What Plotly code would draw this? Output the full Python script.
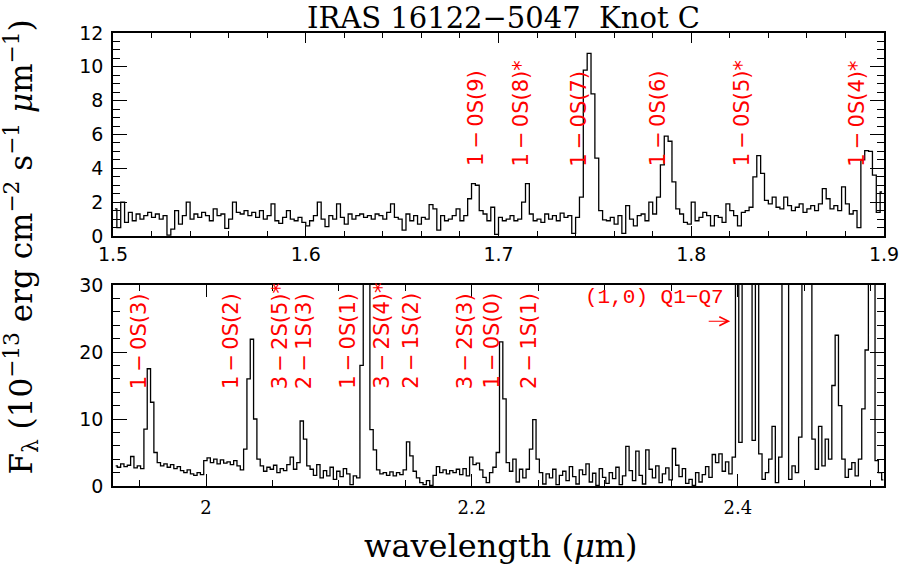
import numpy as np
import plotly.graph_objects as go

# ---------------- spectra ----------------
# H band: uniform grid starting at 1.501 um, 0.002 um per bin
h_start, h_step = 1.501, 0.002
h_flux = [
    1.6, 0.5, 2.0, 0.8, 1.4, 0.9, 1.3, 1.0, 1.2, 1.4,
    1.1, 1.3, 1.0, 1.2, 0.05, 0.4, 1.5, 0.7, 1.2, 2.0,
    1.0, 1.3, 1.1, 1.4, 1.2, 0.9, 1.6, 1.2, 1.3, 0.45,
    1.0, 2.0, 1.4, 1.3, 1.5, 1.2, 1.4, 1.1, 1.5, 1.0,
    1.2, 1.9, 0.9, 0.75, 1.1, 1.5, 1.0, 0.9, 1.1, 0.8,
    0.6, 0.9, 1.2, 2.0, 1.0, 0.55, 1.2, 1.0, 1.9, 1.1,
    0.7, 1.3, 1.0, 1.2, 1.3, 1.1, 1.2, 1.0, 1.3, 1.2,
    1.0, 1.4, 1.9, 1.1, 1.0, 0.35, 1.3, 0.9, 1.2, 0.7,
    1.1, 1.0, 1.85, 1.6, 0.35, 1.2, 0.9, 1.0, 1.2, 1.6,
    0.9, 1.2, 2.2, 3.1, 3.0, 1.5, 1.3, 0.9, 1.7, 0.1,
    1.1, 0.9, 1.0, 1.2, 0.9, 1.0, 2.0, 3.1, 1.3, 0.9,
    1.0, 0.8, 1.3, 1.0, 1.2, 0.9, 1.35, 1.1, 1.2, 0.15,
    1.1, 2.3, 9.8, 10.8, 8.4, 4.6, 1.5, 0.95, 0.9, 1.1,
    0.7, 1.2, 0.15, 1.8, 1.0, 0.6, 1.2, 1.3, 0.9, 2.0,
    1.3, 2.3, 4.2, 5.9, 5.6, 3.2, 1.6, 1.3, 0.8, 0.7,
    2.0, 0.9, 1.1, 1.4, 1.2, 0.6, 1.2, 1.1, 0.8, 1.9,
    1.5, 1.2, 0.6, 1.4, 1.5, 1.7, 3.5, 4.75, 3.7, 2.1,
    1.9, 2.3, 1.7, 1.6, 2.3, 1.8, 1.5, 1.7, 1.9, 1.4,
    1.6, 1.8, 1.5, 1.9, 2.8, 2.2, 1.6, 1.8, 1.5, 2.9,
    1.9, 1.3, 1.5, 0.5, 4.5, 5.05, 5.0, 3.6, 1.4, 2.6,
]

# K band: uniform grid starting at 1.932 um, 0.0025 um per bin
k_start, k_step = 1.932, 0.0025
k_flux = [
    3.0, 2.8, 3.3, 2.9, 3.1, 4.4, 2.7, 3.0, 2.6, 8.5,
    17.5, 12.5, 5.0, 3.5, 3.0, 3.3, 2.8, 3.2, 2.6, 2.9,
    2.3, 2.0, 2.4, 1.8, 1.6, 2.0, 1.7, 3.8, 4.2, 3.5,
    4.0, 3.3, 3.9, 3.4, 3.6, 3.2, 3.8, 3.0, 2.4, 5.5,
    16.0, 21.9, 10.0, 4.0, 3.0, 2.2, 2.8, 2.5, 3.1, 2.0,
    2.6, 2.3, 3.2, 4.3, 2.5, 3.5, 9.7, 7.0, 3.0, 2.5,
    1.6, 3.2, 1.2, 2.3, 1.5, 2.8, 1.0, 2.2, 1.4, 2.6,
    1.8, 0.2, 1.5, 1.2, 18.0, 70.0, 90.0, 8.4, 5.4, 2.4,
    1.8, 2.0, 1.6, 2.1, 1.5, 2.0, 1.7, 2.4, 6.6, 4.5,
    2.2, 1.2, 0.5, 0.2, 0.8, 0.1, 1.6, 2.9, 2.0, 2.4,
    1.8, 2.3, 2.0, 2.5, 1.7, 2.6, 1.5, 4.3, 3.2, 3.4,
    2.4, 1.3, 0.5, 2.0, 2.8, 5.0, 21.5, 13.0, 3.5, 2.2,
    4.0, 0.6, 2.5, 1.2, 2.5, 5.5, 9.9, 4.0, 2.0, 0.3,
    1.8, 1.2, 2.5, 0.2, 1.6, 2.2, 0.8, 2.9, 1.4, 0.3,
    2.4, 1.7, 3.3, 0.6, 1.9, 0.1, 2.6, 1.3, 0.4, 2.0,
    1.1, 2.8, 0.2, 1.5, 5.9, 2.3, 0.8, 5.2, 1.6, 0.3,
    5.4, 2.5, 1.2, 3.0, 0.5, 1.8, 2.7, 0.9, 5.6, 3.1,
    1.4, 2.6, 0.4, 1.0, 0.1, 2.0, 0.6, 1.7, 2.9, 1.3,
    4.7, 3.5, 4.8, 2.2, 3.6, 1.8, 4.3, 40.0, 6.5, 80.0,
    100.0, 60.0, 6.8, 60.0, 4.8, 1.0, 2.0, 4.0, 8.9, 0.5,
    4.3, 40.0, 70.0, 1.0, 3.0, 2.0, 7.3, 45.0, 90.0, 60.0,
    7.0, 2.5, 8.9, 3.0, 7.0, 4.0, 15.0, 22.5, 12.0, 4.0,
    1.3, 2.5, 3.5, 1.5, 4.0, 11.5, 20.3, 80.0, 60.0, 3.8,
    2.0, 0.9,
]

h_wave = h_start + h_step * np.arange(len(h_flux))
k_wave = k_start + k_step * np.arange(len(k_flux))

# ---------------- line identifications ----------------
h_line_names = ["1−0S(9)", "1−0S(8)*", "1−0S(7)", "1−0S(6)", "1−0S(5)*", "1−0S(4)*"]
h_line_wave = [1.6887, 1.7118, 1.7420, 1.7827, 1.8263, 1.8862]

k_line_names = ["1−0S(3)", "1−0S(2)", "3−2S(5)*", "2−1S(3)", "1−0S(1)",
                "3−2S(4)*", "2−1S(2)", "3−2S(3)", "1−0S(0)", "2−1S(1)"]
k_line_wave = [1.9491, 2.0189, 2.0552, 2.0739, 2.1067,
               2.1323, 2.1540, 2.1950, 2.2149, 2.2430]

q_branch_text = "(1,0) Q1−Q7"

RED = "#ff0000"
SANS = "DejaVu Sans"
SERIF = "DejaVu Serif"
LABEL_SIZE = 21


def label_markup(name):
    """Rotated line label with thin spaces round the dash."""
    return name.replace("−", "\u2009−\u2009")


fig = go.Figure()
line_style = dict(color="black", width=1.3, shape="hvh")
fig.add_trace(go.Scatter(x=h_wave, y=h_flux, mode="lines", line=line_style,
                         xaxis="x", yaxis="y", showlegend=False, hoverinfo="skip"))
fig.add_trace(go.Scatter(x=k_wave, y=k_flux, mode="lines", line=line_style,
                         xaxis="x2", yaxis="y2", showlegend=False, hoverinfo="skip"))

annotations = []
for name, w in zip(h_line_names, h_line_wave):
    annotations.append(dict(x=w, y=4.0, xref="x", yref="y", text=label_markup(name),
                            textangle=-90, showarrow=False,
                            xanchor="center", yanchor="bottom",
                            font=dict(family=SANS, size=LABEL_SIZE, color=RED)))
for name, w in zip(k_line_names, k_line_wave):
    annotations.append(dict(x=w, y=14.2, xref="x2", yref="y2", text=label_markup(name),
                            textangle=-90, showarrow=False,
                            xanchor="center", yanchor="bottom",
                            font=dict(family=SANS, size=LABEL_SIZE, color=RED)))

# Q-branch note and the open arrow pointing into the band
annotations.append(dict(x=2.3908, y=28.1, xref="x2", yref="y2", text=q_branch_text,
                        showarrow=False, xanchor="right", yanchor="middle",
                        font=dict(family="Liberation Mono", size=21, color=RED)))
annotations.append(dict(x=2.3943, y=24.6, xref="x2", yref="y2", text="",
                        showarrow=True, arrowhead=5, arrowsize=1.6, arrowwidth=1.1,
                        arrowcolor=RED, ax=-23, ay=0, standoff=0, startstandoff=0))

# title and axis titles
annotations.append(dict(x=0.507, y=1.0331, xref="paper", yref="paper",
                        text="IRAS 16122−5047\u00a0\u00a0Knot C", showarrow=False,
                        xanchor="center", yanchor="middle",
                        font=dict(family=SERIF, size=29, color="black")))
annotations.append(dict(x=0.503, y=-0.132, xref="paper", yref="paper",
                        text="wavelength (<i>μ</i>m)", showarrow=False,
                        xanchor="center", yanchor="middle",
                        font=dict(family=SERIF, size=32, color="black")))
annotations.append(dict(x=-0.119, y=0.527, xref="paper", yref="paper",
                        text="F<sub>λ</sub> (10<sup>−13</sup> erg cm<sup>−2</sup> "
                             "s<sup>−1</sup> <i>μ</i>m<sup>−1</sup>)",
                        textangle=-90, showarrow=False,
                        xanchor="center", yanchor="middle",
                        font=dict(family=SERIF, size=31, color="black")))

frame = dict(showline=True, linecolor="black", linewidth=1.5, mirror="allticks",
             ticks="inside", tickcolor="black", tickwidth=1, showgrid=False,
             zeroline=False)

fig.update_layout(
    width=911, height=568,
    margin=dict(l=113, r=19, t=33, b=82),
    paper_bgcolor="white", plot_bgcolor="white",
    showlegend=False,
    annotations=annotations,
    xaxis=dict(frame, domain=[0, 1], anchor="y", range=[1.5, 1.9],
               tickvals=[1.5, 1.6, 1.7, 1.8, 1.9], ticklen=10,
               minor=dict(ticks="inside", ticklen=5, dtick=0.02, tick0=1.5,
                          tickcolor="black", showgrid=False),
               tickfont=dict(family=SANS, size=19, color="black"),
               ticklabelstandoff=0),
    yaxis=dict(frame, domain=[0.5519, 1], anchor="x", range=[0, 12],
               tickvals=[0, 2, 4, 6, 8, 10, 12], ticklen=14,
               minor=dict(ticks="inside", ticklen=7, dtick=0.5, tick0=0,
                          tickcolor="black", showgrid=False),
               tickfont=dict(family=SANS, size=19, color="black"),
               ticklabelstandoff=4),
    xaxis2=dict(frame, domain=[0, 1], anchor="y2", range=[1.93, 2.51],
                tickvals=[2.0, 2.2, 2.4], ticklen=12,
                minor=dict(ticks="inside", ticklen=6, dtick=0.05, tick0=2.0,
                           tickcolor="black", showgrid=False),
                tickfont=dict(family=SERIF, size=18, color="black"),
                ticklabelstandoff=5),
    yaxis2=dict(frame, domain=[0, 0.4437], anchor="x2", range=[0, 30],
                tickvals=[0, 10, 20, 30], ticklen=14,
                minor=dict(ticks="inside", ticklen=7, dtick=2, tick0=0,
                           tickcolor="black", showgrid=False),
                tickfont=dict(family=SANS, size=19, color="black"),
                ticklabelstandoff=4),
)

fig.write_html("out.html")
